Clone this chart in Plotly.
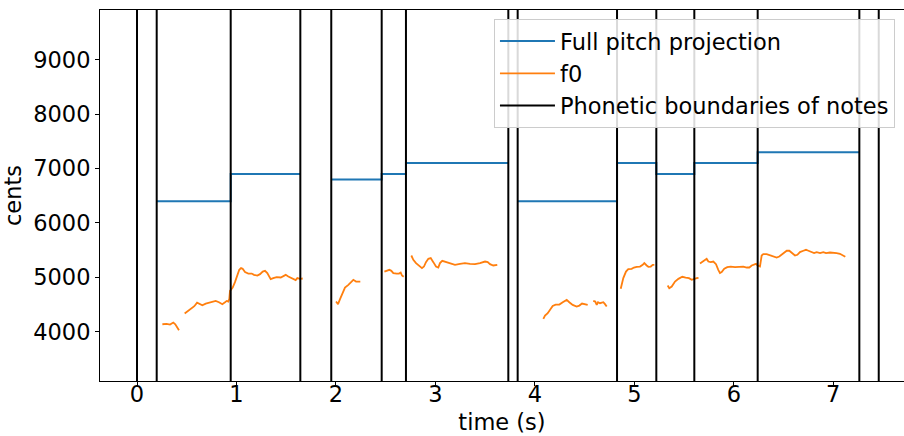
import plotly.graph_objects as go

# Phonetic boundaries of notes (s)
boundaries = [0.0, 0.198, 0.942, 1.642, 1.953, 2.460, 2.704, 3.733, 3.827,
              4.826, 5.221, 5.603, 6.240, 7.262, 7.457]

# Full pitch projection: note start, end (s) and pitch (cents)
note_start = [0.198, 0.942, 1.953, 2.460, 2.704, 3.827, 4.826, 5.221, 5.603, 6.240]
note_end = [0.942, 1.642, 2.460, 2.704, 3.733, 4.826, 5.221, 5.603, 6.240, 7.262]
note_pitch = [6400, 6900, 6800, 6900, 7100, 6400, 7100, 6900, 7100, 7300]

# f0 contour (None = unvoiced gap)
f0_time = [
    0.255, 0.298, 0.332, 0.365, 0.385, 0.422, None,
    0.479, 0.516, 0.550, 0.576, 0.604, 0.634, 0.657, 0.691, 0.727, 0.761, 0.791,
    0.824, 0.858, 0.885, 0.902, 0.918, 0.928, 0.935, 0.962, 0.985, 1.008, 1.028,
    1.046, 1.062, 1.086, 1.119, 1.153, 1.176, 1.210, 1.237, 1.264, 1.287, 1.310,
    1.344, 1.370, 1.404, 1.445, 1.471, 1.495, 1.521, 1.555, 1.595, 1.612, 1.639,
    1.666, None,
    2.001, 2.021, 2.041, 2.064, 2.091, 2.125, 2.151, 2.175, 2.202, 2.225, 2.245, None,
    2.487, 2.510, 2.537, 2.557, 2.577, 2.611, 2.634, 2.651, 2.664, 2.681, None,
    2.758, 2.778, 2.805, 2.838, 2.865, 2.885, 2.905, 2.929, 2.953, 2.979, 3.006,
    3.029, 3.046, 3.069, 3.096, 3.130, 3.164, 3.197, 3.247, 3.297, 3.348, 3.398,
    3.448, 3.499, 3.526, 3.549, 3.582, 3.606, 3.622, None,
    4.085, 4.102, 4.129, 4.152, 4.179, 4.209, 4.246, 4.280, 4.320, 4.346, 4.380,
    4.420, 4.447, 4.474, 4.497, 4.531, None,
    4.587, 4.607, 4.622, 4.635, 4.655, 4.675, 4.688, 4.705, 4.722, None,
    4.863, 4.873, 4.889, 4.916, 4.939, 4.973, 4.996, 5.024, 5.057, 5.084, 5.100,
    5.124, 5.141, 5.165, 5.185, 5.201, None,
    5.335, 5.351, 5.376, 5.409, 5.443, 5.482, 5.516, 5.549, 5.577, 5.600, 5.627,
    5.645, None,
    5.660, 5.687, 5.710, 5.727, 5.744, 5.768, 5.794, 5.821, 5.844, 5.861, 5.878,
    5.904, 5.934, 5.969, 6.012, 6.062, 6.095, 6.130, 6.156, 6.180, 6.203, 6.223,
    6.240, 6.263, 6.280, 6.296, 6.330, 6.364, 6.397, 6.431, 6.457, 6.491, 6.532,
    6.558, 6.582, 6.615, 6.639, 6.665, 6.699, 6.726, 6.750, 6.774, 6.807, 6.833,
    6.867, 6.900, 6.927, 6.967, 7.000, 7.034, 7.067, 7.101, 7.121,
]
f0_cents = [
    4136, 4142, 4129, 4166, 4136, 4026, None,
    4332, 4381, 4442, 4468, 4534, 4505, 4486, 4516, 4534, 4547, 4565,
    4541, 4505, 4541, 4565, 4553, 4602, 4750, 4810, 4910, 5032, 5137,
    5168, 5155, 5094, 5068, 5068, 5044, 5032, 5057, 5105, 5118, 5076,
    4965, 4984, 5002, 4995, 5020, 5044, 5013, 4984, 4947, 4984, 4971,
    4977, None,
    4553, 4505, 4597, 4707, 4810, 4860, 4903, 4952, 4921, 4921, 4921, None,
    5105, 5118, 5137, 5118, 5076, 5068, 5068, 5087, 5032, 5008, None,
    5400, 5321, 5260, 5216, 5168, 5197, 5278, 5339, 5352, 5278, 5197,
    5179, 5260, 5302, 5289, 5271, 5253, 5229, 5247, 5260, 5247, 5241,
    5260, 5289, 5278, 5241, 5216, 5229, 5229, None,
    4234, 4295, 4339, 4400, 4473, 4497, 4497, 4541, 4584, 4541, 4492,
    4461, 4479, 4516, 4505, 4492, None,
    4565, 4553, 4492, 4541, 4523, 4529, 4541, 4505, 4461, None,
    4787, 4891, 4984, 5105, 5149, 5155, 5179, 5192, 5197, 5229, 5260,
    5216, 5192, 5197, 5229, 5229, None,
    4847, 4799, 4829, 4921, 4971, 5008, 4995, 4984, 4952, 4971, 4984,
    4990, None,
    5253, 5289, 5321, 5339, 5289, 5278, 5289, 5241, 5137, 5076, 5094,
    5155, 5186, 5197, 5186, 5186, 5197, 5179, 5179, 5216, 5241, 5247,
    5216, 5197, 5400, 5425, 5425, 5400, 5382, 5363, 5382, 5431, 5487,
    5487, 5444, 5400, 5413, 5463, 5487, 5505, 5487, 5463, 5444, 5463,
    5444, 5463, 5444, 5455, 5455, 5444, 5431, 5400, 5376,
]

x_range = [-0.372, 7.711]
y_range = [3092, 9915]
y_ticks = [4000, 5000, 6000, 7000, 8000, 9000]
x_ticks = [0, 1, 2, 3, 4, 5, 6, 7]

# build step line for the projection (gaps where notes are not contiguous)
proj_x, proj_y = [], []
for i, (s, e, p) in enumerate(zip(note_start, note_end, note_pitch)):
    if i > 0 and abs(note_end[i - 1] - s) > 1e-9:
        proj_x.append(None)
        proj_y.append(None)
    proj_x += [s, e]
    proj_y += [p, p]

# vertical boundary lines spanning the axis
bx, by = [], []
for b in boundaries:
    bx += [b, b, None]
    by += [y_range[0], y_range[1], None]

fig = go.Figure()
fig.add_trace(go.Scatter(x=proj_x, y=proj_y, mode="lines", name="Full pitch projection",
                         line=dict(color="#1f77b4", width=2), connectgaps=False))
fig.add_trace(go.Scatter(x=f0_time, y=f0_cents, mode="lines", name="f0",
                         line=dict(color="#ff7f0e", width=1.8), connectgaps=False))
fig.add_trace(go.Scatter(x=bx, y=by, mode="lines", name="Phonetic boundaries of notes",
                         line=dict(color="black", width=2), connectgaps=False))

font_family = "DejaVu Sans"
fs = 22.5
fig.update_layout(
    width=904, height=436,
    margin=dict(l=100, r=0, t=10, b=55),
    paper_bgcolor="white", plot_bgcolor="white",
    font=dict(family=font_family, size=fs, color="black"),
    showlegend=True,
    legend=dict(x=0.49, y=0.976, xanchor="left", yanchor="top",
                itemwidth=55,
                bgcolor="rgba(255,255,255,0.85)", bordercolor="#cccccc", borderwidth=1,
                font=dict(size=fs, family=font_family)),
    xaxis=dict(range=x_range, tickvals=x_ticks, ticks="outside", ticklen=4,
               tickcolor="black", showline=True, linecolor="black", linewidth=1,
               mirror=True, showgrid=False, zeroline=False,
               ticklabelstandoff=-11,
               title=dict(text="time (s)", standoff=8, font=dict(size=fs)),
               tickfont=dict(size=fs)),
    yaxis=dict(range=y_range, tickvals=y_ticks, ticks="outside", ticklen=4,
               tickcolor="black", showline=True, linecolor="black", linewidth=1,
               showgrid=False, zeroline=False,
               title=dict(text="cents", standoff=6, font=dict(size=fs)),
               tickfont=dict(size=fs)),
)
fig.write_html("out.html", config={"displayModeBar": False},
               post_script="document.body.style.margin='0px';")
